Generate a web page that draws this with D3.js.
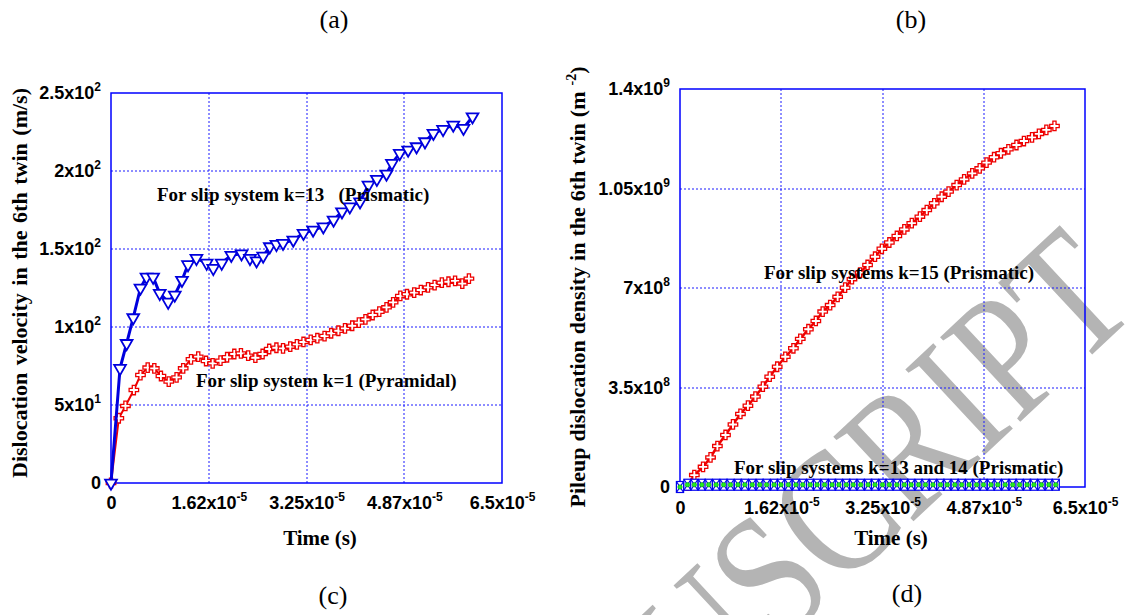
<!DOCTYPE html>
<html lang="en">
<head>
<meta charset="utf-8"/>
<title>Dislocation velocity and pileup density in the 6th twin</title>
<script src="https://d3js.org/d3.v7.min.js"></script>
<style>
  body { margin: 0; background: #fff; }
  .grid line { stroke: #1a1aff; stroke-width: 1; stroke-dasharray: 2,2; }
  .frame { fill: none; stroke: #0000ff; stroke-width: 1.5; }
  .axis text { font-family: "Liberation Sans", Arial, sans-serif; font-weight: bold; font-size: 18px; fill: #000; }
  .title { font-family: "Liberation Serif", "Times New Roman", serif; font-weight: bold; font-size: 22px; }
  .note { font-family: "Liberation Serif", "Times New Roman", serif; font-weight: bold; font-size: 19px; white-space: pre; }
  .panel { font-family: "Liberation Serif", "Times New Roman", serif; font-size: 26px; }
  .watermark { font-family: "Liberation Serif", "Times New Roman", serif; font-size: 178px; fill: #b4b4b4; }
</style>
</head>
<body>
<div id="chart"></div>
<script>
// time axis, in units of 1e-5 s
var timeTicks = [0, 1.625, 3.25, 4.875, 6.5],
    timeTickMant = ["0", "1.62x10", "3.25x10", "4.87x10", "6.5x10"],
    timeTickExp = ["", "-5", "-5", "-5", "-5"];

// panel (c): dislocation velocity (m/s)
var velTicks = [0, 50, 100, 150, 200, 250],
    velTickMant = ["0", "5x10", "1x10", "1.5x10", "2x10", "2.5x10"],
    velTickExp = ["", "1", "2", "2", "2", "2"];

// k=13 (prismatic)
var velK13Time = [0, 0.15, 0.26, 0.37, 0.49, 0.59, 0.70, 0.81, 0.95, 1.06, 1.18, 1.28, 1.42, 1.59, 1.70,
  1.84, 2.00, 2.17, 2.31, 2.42, 2.53, 2.64, 2.75, 2.86, 3.03, 3.20, 3.36, 3.53, 3.70, 3.84, 3.97,
  4.14, 4.28, 4.42, 4.58, 4.67, 4.80, 4.94, 5.08, 5.22, 5.36, 5.52, 5.69, 5.86, 6.01];
var velK13 = [0, 73.5, 89.5, 106, 125, 132, 132, 121.6, 116, 120.5, 130, 140, 144, 141, 137.6,
  141, 146, 147, 144, 142.5, 145.5, 151.5, 153, 153.7, 155.8, 160.1, 162.2, 164.3, 168.6, 173.9, 177.1,
  180.3, 191, 194.7, 198.1, 204.9, 211.3, 213.5, 215.6, 218.8, 224.2, 226.7, 229.5, 227.4, 234.8];

// k=1 (pyramidal)
var velK1Time = [0, 0.13, 0.24, 0.38, 0.49, 0.61, 0.72, 0.83, 0.96, 1.09, 1.20, 1.33, 1.45, 1.58, 1.69,
  1.82, 1.93, 2.05, 2.16, 2.28, 2.40, 2.52, 2.63, 2.75, 2.86, 2.98, 3.09, 3.20, 3.32, 3.43, 3.55,
  3.66, 3.78, 3.89, 4.01, 4.12, 4.23, 4.35, 4.46, 4.58, 4.69, 4.81, 4.92, 5.04, 5.15, 5.27, 5.38,
  5.50, 5.61, 5.72, 5.84, 5.95];
var velK1 = [0, 41.5, 49.4, 59.6, 69.2, 74, 73.5, 68.6, 65, 67.7, 73.5, 79.3, 81, 78.2, 76.7,
  78.4, 80.6, 82.7, 83.1, 81.6, 80.3, 82.7, 85.9, 86.7, 86.3, 87.4, 88.9, 90.4, 91.7, 92.8, 94.2,
  96, 97.6, 99.1, 100.8, 102.8, 104.9, 107.7, 109.8, 112.6, 115.8, 119.9, 121, 122, 123.7, 125.4, 126.9,
  128.4, 129, 129.6, 127.8, 131];

// panel (d): pileup density, in units of 1e8 m^-2
var rhoTicks = [0, 3.5, 7, 10.5, 14],
    rhoTickMant = ["0", "3.5x10", "7x10", "1.05x10", "1.4x10"],
    rhoTickExp = ["", "8", "8", "9", "9"];

// k=15 (prismatic)
var rhoK15Time = [0.12, 0.23, 0.37, 0.49, 0.60, 0.73, 0.85, 0.97, 1.09, 1.21, 1.33, 1.44, 1.56, 1.69,
  1.82, 1.93, 2.06, 2.18, 2.29, 2.41, 2.53, 2.65, 2.76, 2.89, 3.01, 3.13, 3.24, 3.36, 3.48, 3.60,
  3.72, 3.85, 3.96, 4.08, 4.20, 4.31, 4.44, 4.56, 4.69, 4.81, 4.92, 5.04, 5.15, 5.27, 5.40, 5.52,
  5.65, 5.76, 5.88, 6.01];
var rhoK15 = [0.05, 0.42, 0.71, 1.04, 1.44, 1.83, 2.2, 2.57, 2.86, 3.18, 3.53, 3.88, 4.23, 4.58,
  4.88, 5.21, 5.55, 5.84, 6.17, 6.4, 6.69, 7.01, 7.31, 7.54, 7.81, 8.1, 8.38, 8.6, 8.83, 9.06,
  9.28, 9.51, 9.74, 9.98, 10.21, 10.39, 10.62, 10.82, 11.03, 11.21, 11.41, 11.6, 11.74, 11.88, 12.03, 12.17,
  12.3, 12.42, 12.56, 12.7];

// k=13 and k=14 (prismatic), both stay near zero
var rhoLowTime = [0, 0.12, 0.23, 0.35, 0.46, 0.58, 0.70, 0.81, 0.93, 1.04, 1.16, 1.28, 1.39, 1.51, 1.62,
  1.74, 1.86, 1.97, 2.09, 2.20, 2.32, 2.44, 2.55, 2.67, 2.78, 2.90, 3.02, 3.13, 3.25, 3.36, 3.48,
  3.60, 3.71, 3.83, 3.94, 4.06, 4.18, 4.29, 4.41, 4.52, 4.64, 4.76, 4.87, 4.99, 5.10, 5.22, 5.34,
  5.45, 5.57, 5.68, 5.80, 5.92, 6.03];
var rhoK13 = [0, 0.08, 0.08, 0.08, 0.08, 0.08, 0.08, 0.08, 0.08, 0.08, 0.08, 0.08, 0.08, 0.08, 0.08,
  0.08, 0.08, 0.08, 0.08, 0.08, 0.08, 0.08, 0.08, 0.08, 0.08, 0.08, 0.08, 0.08, 0.08, 0.08, 0.08,
  0.08, 0.08, 0.08, 0.08, 0.08, 0.08, 0.08, 0.08, 0.08, 0.08, 0.08, 0.08, 0.08, 0.08, 0.08, 0.08,
  0.08, 0.08, 0.08, 0.08, 0.08, 0.08];
var rhoK14 = [0, 0.08, 0.08, 0.08, 0.08, 0.08, 0.08, 0.08, 0.08, 0.08, 0.08, 0.08, 0.08, 0.08, 0.08,
  0.08, 0.08, 0.08, 0.08, 0.08, 0.08, 0.08, 0.08, 0.08, 0.08, 0.08, 0.08, 0.08, 0.08, 0.08, 0.08,
  0.08, 0.08, 0.08, 0.08, 0.08, 0.08, 0.08, 0.08, 0.08, 0.08, 0.08, 0.08, 0.08, 0.08, 0.08, 0.08,
  0.08, 0.08, 0.08, 0.08, 0.08, 0.08];

function zip(ts, vs) {
  return ts.map(function(t, i) { return [t, vs[i]]; });
}

var width = 1127,
    height = 615;

var svg = d3.select("#chart").append("svg")
  .attr("width", width)
  .attr("height", height);

// watermark sits under everything (narrowed a bit, like the scanned one)
svg.append("text")
  .attr("class", "watermark")
  .attr("text-anchor", "end")
  .attr("transform", "translate(1141,309) rotate(-43) scale(0.82,1)")
  .text("ACCEPTED MANUSCRIPT");

// scales
var xL = d3.scaleLinear().domain([0, 6.5]).range([111, 502]),
    yL = d3.scaleLinear().domain([0, 250]).range([483, 93]),
    xR = d3.scaleLinear().domain([0, 6.5]).range([680, 1085]),
    yR = d3.scaleLinear().domain([0, 14]).range([487, 89]);

// put mantissa + superscript exponent into each tick label
function supLabels(g, mant, exp) {
  g.selectAll(".tick text").each(function(d, i) {
    var t = d3.select(this).text(null);
    t.append("tspan").text(mant[i]);
    if (exp[i]) t.append("tspan").attr("font-size", 12).attr("dy", -8).text(exp[i]);
  });
}

function drawFrame(x, y, xTicks, yTicks) {
  var grid = svg.append("g").attr("class", "grid");
  grid.selectAll("line.v")
    .data(xTicks.slice(1, -1))
    .enter().append("line")
      .attr("x1", function(d) { return Math.round(x(d)); })
      .attr("x2", function(d) { return Math.round(x(d)); })
      .attr("y1", y.range()[0])
      .attr("y2", y.range()[1]);
  grid.selectAll("line.h")
    .data(yTicks.slice(1, -1))
    .enter().append("line")
      .attr("x1", x.range()[0])
      .attr("x2", x.range()[1])
      .attr("y1", function(d) { return Math.round(y(d)); })
      .attr("y2", function(d) { return Math.round(y(d)); });

  svg.append("rect")
    .attr("class", "frame")
    .attr("x", x.range()[0])
    .attr("y", y.range()[1])
    .attr("width", x.range()[1] - x.range()[0])
    .attr("height", y.range()[0] - y.range()[1]);
}

function drawAxes(x, y, yVals, yMant, yExp, xPad) {
  var gx = svg.append("g")
    .attr("class", "axis")
    .attr("transform", "translate(0," + y.range()[0] + ")")
    .call(d3.axisBottom(x).tickValues(timeTicks).tickSize(0).tickPadding(xPad));
  gx.attr("font-size", null).attr("font-family", null);
  gx.select(".domain").remove();
  supLabels(gx, timeTickMant, timeTickExp);

  var gy = svg.append("g")
    .attr("class", "axis")
    .attr("transform", "translate(" + x.range()[0] + ",0)")
    .call(d3.axisLeft(y).tickValues(yVals).tickSize(0).tickPadding(10));
  gy.attr("font-size", null).attr("font-family", null);
  gy.select(".domain").remove();
  supLabels(gy, yMant, yExp);
}

var crossSym = d3.symbol().type(d3.symbolCross).size(50),
    triSym = d3.symbol().type(d3.symbolTriangle).size(60);

// ---------- panel (c) ----------
drawFrame(xL, yL, timeTicks, velTicks);
drawAxes(xL, yL, velTicks, velTickMant, velTickExp, 13);

var lineL = d3.line()
  .x(function(d) { return xL(d[0]); })
  .y(function(d) { return yL(d[1]); });

svg.append("path")
  .datum(zip(velK1Time, velK1))
  .attr("d", lineL)
  .attr("fill", "none")
  .attr("stroke", "#ee0000")
  .attr("stroke-width", 2);

svg.append("g").selectAll("path")
  .data(zip(velK1Time, velK1))
  .enter().append("path")
    .attr("d", crossSym)
    .attr("transform", function(d) { return "translate(" + xL(d[0]) + "," + yL(d[1]) + ")"; })
    .attr("fill", "#fff")
    .attr("stroke", "#ee0000")
    .attr("stroke-width", 1.3);

svg.append("path")
  .datum(zip(velK13Time, velK13))
  .attr("d", lineL)
  .attr("fill", "none")
  .attr("stroke", "#0000dd")
  .attr("stroke-width", 3);

svg.append("g").selectAll("path")
  .data(zip(velK13Time, velK13))
  .enter().append("path")
    .attr("d", triSym)
    .attr("transform", function(d) { return "translate(" + xL(d[0]) + "," + yL(d[1]) + ") rotate(180)"; })
    .attr("fill", "#fff")
    .attr("stroke", "#0000dd")
    .attr("stroke-width", 1.8);

svg.append("text").attr("class", "note")
  .attr("x", 157).attr("y", 201)
  .text("For slip system k=13   (Prismatic)");
svg.append("text").attr("class", "note")
  .attr("x", 196).attr("y", 387)
  .text("For slip system k=1 (Pyramidal)");

// ---------- panel (d) ----------
drawFrame(xR, yR, timeTicks, rhoTicks);
drawAxes(xR, yR, rhoTicks, rhoTickMant, rhoTickExp, 14);

var lineR = d3.line()
  .x(function(d) { return xR(d[0]); })
  .y(function(d) { return yR(d[1]); });

svg.append("path")
  .datum([[0, 0]].concat(zip(rhoK15Time, rhoK15)))
  .attr("d", lineR)
  .attr("fill", "none")
  .attr("stroke", "#ee0000")
  .attr("stroke-width", 2.5);

svg.append("g").selectAll("path")
  .data(zip(rhoK15Time, rhoK15))
  .enter().append("path")
    .attr("d", crossSym)
    .attr("transform", function(d) { return "translate(" + xR(d[0]) + "," + yR(d[1]) + ")"; })
    .attr("fill", "#fff")
    .attr("stroke", "#ee0000")
    .attr("stroke-width", 1.3);

svg.append("path")
  .datum(zip(rhoLowTime, rhoK13))
  .attr("d", lineR)
  .attr("fill", "none")
  .attr("stroke", "#0000dd")
  .attr("stroke-width", 2.5);

// k=13: boxed x markers
var boxes = svg.append("g").selectAll("g")
  .data(zip(rhoLowTime, rhoK13))
  .enter().append("g")
    .attr("transform", function(d) { return "translate(" + xR(d[0]) + "," + yR(d[1]) + ")"; })
    .attr("stroke", "#0000ee")
    .attr("stroke-width", 1.2)
    .attr("fill", "none");
boxes.append("rect").attr("x", -3.6).attr("y", -5.5).attr("width", 7.2).attr("height", 11).attr("fill", "#fff");
boxes.append("path").attr("d", "M-3.6,-5.5L3.6,5.5M-3.6,5.5L3.6,-5.5");

// k=14: green circles
svg.append("g").selectAll("circle")
  .data(zip(rhoLowTime, rhoK14))
  .enter().append("circle")
    .attr("cx", function(d) { return xR(d[0]); })
    .attr("cy", function(d) { return yR(d[1]); })
    .attr("r", 2.2)
    .attr("fill", "#22ee22")
    .attr("stroke", "#009900")
    .attr("stroke-width", 0.6);

svg.append("text").attr("class", "note")
  .attr("x", 764).attr("y", 279)
  .text("For slip systems k=15 (Prismatic)");
svg.append("text").attr("class", "note")
  .attr("x", 734).attr("y", 474)
  .text("For slip systems k=13 and 14 (Prismatic)");

// ---------- axis titles ----------
function fitWords(sel, target) {
  var len = sel.node().getComputedTextLength(),
      n = sel.text().split(" ").length - 1;
  if (n > 0 && len < target) sel.style("word-spacing", ((target - len) / n) + "px");
}

var yTitleL = svg.append("text").attr("class", "title")
  .attr("text-anchor", "middle")
  .attr("transform", "translate(27,283) rotate(-90)")
  .text("Dislocation velocity in the 6th twin (m/s)");
fitWords(yTitleL, 390);

var yTitleR = svg.append("text").attr("class", "title")
  .attr("text-anchor", "middle")
  .attr("transform", "translate(585,287) rotate(-90)");
yTitleR.append("tspan").text("Pileup dislocation density in the 6th twin (m ");
yTitleR.append("tspan").attr("font-size", 14).attr("dy", -9).text("-2");
yTitleR.append("tspan").attr("dy", 9).text(")");
fitWords(yTitleR, 441);

svg.append("text").attr("class", "title")
  .attr("text-anchor", "middle")
  .attr("x", 320).attr("y", 545)
  .style("font-size", "21px")
  .text("Time (s)");
svg.append("text").attr("class", "title")
  .attr("text-anchor", "middle")
  .attr("x", 891).attr("y", 545)
  .style("font-size", "21px")
  .text("Time (s)");

// ---------- panel letters ----------
var panels = [["(a)", 334, 28], ["(b)", 911, 28], ["(c)", 333, 604], ["(d)", 907, 602]];
svg.selectAll("text.panel")
  .data(panels)
  .enter().append("text")
    .attr("class", "panel")
    .attr("text-anchor", "middle")
    .attr("x", function(d) { return d[1]; })
    .attr("y", function(d) { return d[2]; })
    .text(function(d) { return d[0]; });
</script>
</body>
</html>
